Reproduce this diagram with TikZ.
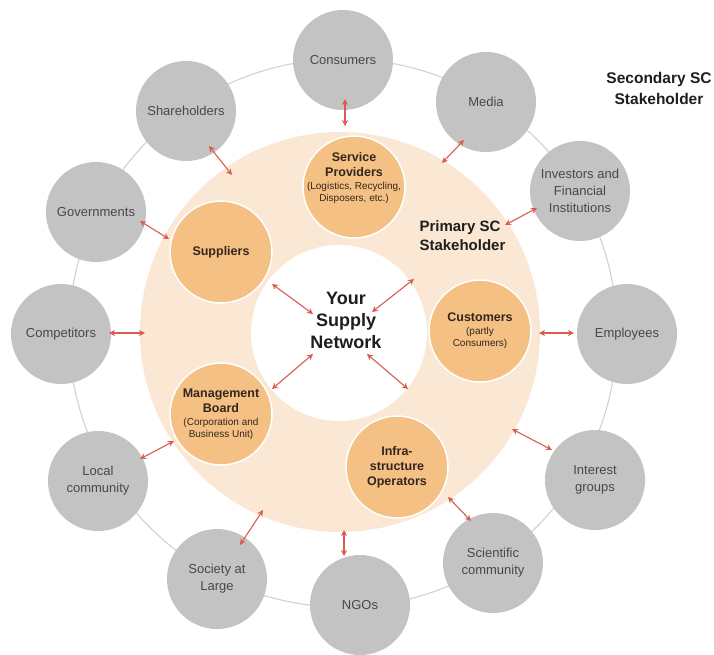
\documentclass[tikz,border=0pt]{standalone}
\usepackage{fontspec}
\setmainfont{Liberation Sans}
\usetikzlibrary{arrows.meta}
\definecolor{peach}{RGB}{250,231,212}
\definecolor{orng}{RGB}{245,192,132}
\definecolor{secgray}{RGB}{195,195,195}
\definecolor{ringgray}{RGB}{210,210,210}
\definecolor{arrred}{RGB}{218,92,80}
\definecolor{sectext}{RGB}{72,72,72}
\definecolor{primtext}{RGB}{50,38,28}
\definecolor{labtext}{RGB}{30,30,30}
\newcommand\subtx{\mdseries\fontsize{10}{13}\selectfont}
\begin{document}
\begin{tikzpicture}[x=1pt,y=-1pt,
  secnode/.style={circle, fill=secgray, minimum size=100pt, inner sep=0pt, align=center,
    text=sectext, font=\fontsize{13}{17}\selectfont},
  primnode/.style={circle, fill=orng, draw=white, line width=1.5pt, minimum size=102pt, inner sep=0pt,
    align=center, text=primtext, font=\bfseries\fontsize{12.5}{15}\selectfont},
  arr/.style={draw=arrred, line width=1.1pt, {Stealth[length=6pt,width=6pt]}-{Stealth[length=6pt,width=6pt]}},
  biglab/.style={text=labtext, font=\bfseries\fontsize{15}{19}\selectfont}]
\useasboundingbox (0,0) rectangle (714,654);
\fill[white] (0,0) rectangle (714,654);
% rings
\draw[ringgray, line width=1.1pt] (343,333) circle[radius=274pt];
\fill[peach] (340,332) circle[radius=200pt];
\fill[white] (339,333) circle[radius=88pt];
% secondary stakeholders
\node[secnode] (cons) at (343,60) {Consumers};
\node[secnode] (media) at (486,102) {Media};
\node[secnode] (inv) at (580,191) {Investors and\\Financial\\Institutions};
\node[secnode] (emp) at (627,334) {Employees};
\node[secnode] (intg) at (595,480) {Interest\\groups};
\node[secnode] (sci) at (493,563) {Scientific\\community};
\node[secnode] (ngo) at (360,605) {NGOs};
\node[secnode] (soc) at (217,579) {Society at\\Large};
\node[secnode] (loc) at (98,481) {Local\\community};
\node[secnode] (comp) at (61,334) {Competitors};
\node[secnode] (gov) at (96,212) {Governments};
\node[secnode] (share) at (186,111) {Shareholders};
% primary stakeholders
\node[primnode] (serv) at (354,187) {};
\node[text=primtext, align=center, font=\bfseries\fontsize{12.5}{15}\selectfont] (servt) at (354,178)
  {Service\\Providers\\[-2pt]{\subtx(Logistics, Recycling,}\\[-3pt]{\subtx Disposers, etc.)}};
\node[primnode] (supp) at (221,252) {Suppliers};
\node[primnode] (cust) at (480,331) {Customers\\[-2pt]{\subtx(partly}\\[-3pt]{\subtx Consumers)}};
\node[primnode] (mgmt) at (221,414) {Management\\Board\\[-2pt]{\subtx(Corporation and}\\[-3pt]{\subtx Business Unit)}};
\node[primnode] (infra) at (397,467) {Infra-\\structure\\Operators};
% labels
\node[biglab, align=center, font=\bfseries\fontsize{18}{22}\selectfont] (ysn) at (346,320) {Your\\Supply\\Network};
\node[biglab, align=left, anchor=west] (plab) at (416,236) {Primary SC\\Stakeholder};
\node[biglab, align=center, font=\bfseries\fontsize{15.5}{21}\selectfont] (slab) at (659,88) {Secondary SC\\Stakeholder};
% arrow end points
\coordinate (a1) at (345,99);  \coordinate (b1) at (345,126);
\coordinate (a2) at (464,140); \coordinate (b2) at (442,163);
\coordinate (a3) at (537,208); \coordinate (b3) at (505,225);
\coordinate (a4) at (539,333); \coordinate (b4) at (574,333);
\coordinate (a5) at (512,429); \coordinate (b5) at (552,450);
\coordinate (a6) at (448,497); \coordinate (b6) at (471,521);
\coordinate (a7) at (344,530); \coordinate (b7) at (344,556);
\coordinate (a8) at (263,510); \coordinate (b8) at (240,545);
\coordinate (a9) at (174,441); \coordinate (b9) at (140,459);
\coordinate (a10) at (109,333); \coordinate (b10) at (145,333);
\coordinate (a11) at (140,221); \coordinate (b11) at (169,239);
\coordinate (a12) at (209,146); \coordinate (b12) at (232,175);
\coordinate (a13) at (272,284); \coordinate (b13) at (313,314);
\coordinate (a14) at (372,312); \coordinate (b14) at (414,279);
\coordinate (a15) at (272,389); \coordinate (b15) at (313,354);
\coordinate (a16) at (367,354); \coordinate (b16) at (408,389);
\foreach \i in {1,...,16} { \draw[arr] (a\i) -- (b\i); }
\end{tikzpicture}
\end{document}
